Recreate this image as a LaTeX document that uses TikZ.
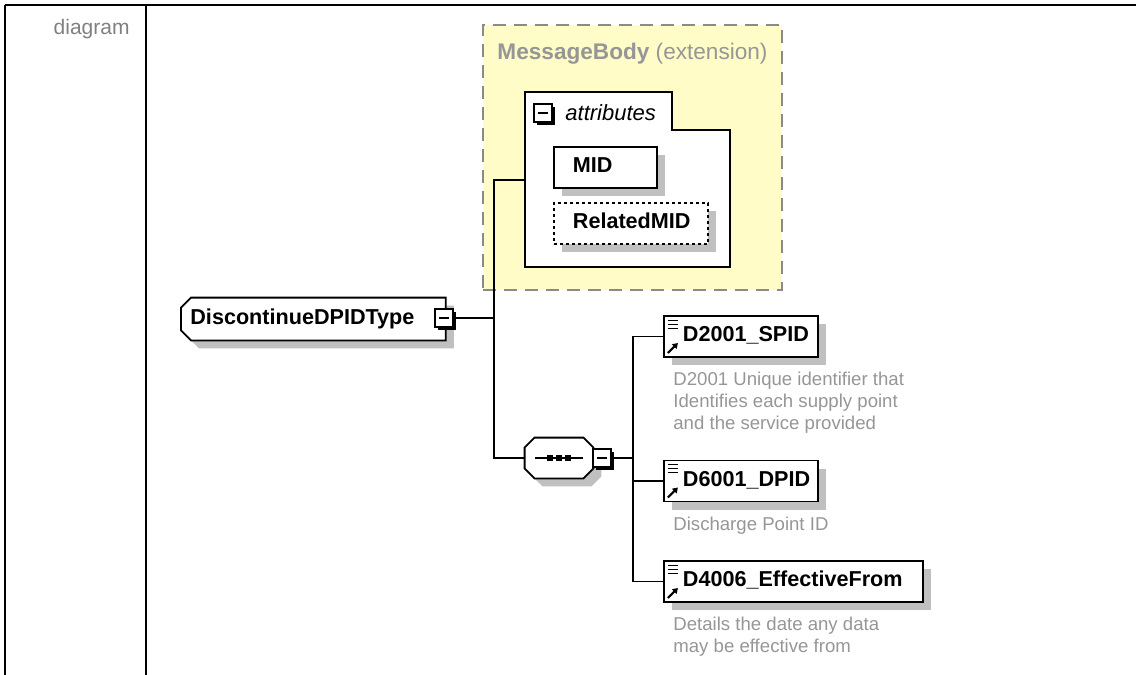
\documentclass[tikz,border=0pt]{standalone}
\usepackage{fontspec}
\setmainfont{Liberation Sans}
\usepackage{tikz}
\usetikzlibrary{positioning,shadows,arrows.meta,backgrounds}

\definecolor{groupfill}{RGB}{255,252,200}
\definecolor{groupedge}{RGB}{138,138,138}
\definecolor{notegray}{RGB}{150,150,150}
\definecolor{celltext}{RGB}{128,128,128}
\definecolor{shadegray}{RGB}{192,192,192}

\tikzset{
	boxshade/.style={drop shadow={shadow xshift=4pt,shadow yshift=-4pt,fill=shadegray,opacity=1}},
	wire/.style={line width=0.7pt},
	frameline/.style={line width=1pt},
	outline/.style={draw,fill=white,line width=0.9pt,boxshade},
	minusbox/.style={draw,fill=white,line width=0.6pt,minimum size=9pt,inner sep=0pt,
		drop shadow={shadow xshift=1.5pt,shadow yshift=-1.5pt,fill=black,opacity=1},
		path picture={\draw[line width=0.6pt] ([xshift=2pt]path picture bounding box.west) -- ([xshift=-2pt]path picture bounding box.east);}},
	namebox/.style={draw,fill=white,line width=0.9pt,boxshade,anchor=west,inner xsep=0pt,inner ysep=0pt,
		text height=8pt,text depth=2.6pt,minimum height=20.5pt,align=left,
		font=\fontsize{10.8}{13}\selectfont\bfseries,execute at begin node={\hspace*{9.5pt}}},
	elembox/.style={namebox,path picture={
		\foreach \yy in {-2pt,-4pt,-6pt}
			\draw[line width=0.5pt] ([xshift=2pt,yshift=\yy]path picture bounding box.north west) -- ++(5pt,0pt);
		\draw[line width=1pt,-{Triangle[length=2.6pt,width=3.2pt]}] ([xshift=2pt,yshift=2pt]path picture bounding box.south west) -- ++(5pt,5pt);}},
	typelabel/.style={anchor=west,inner xsep=0pt,inner ysep=0pt,text height=8pt,text depth=2.6pt,minimum height=21pt,
		align=left,font=\fontsize{10.8}{13}\selectfont\bfseries,execute at begin node={\hspace*{4.5pt}}},
	seqspot/.style={minimum width=34pt,minimum height=20pt,inner sep=0pt},
	note/.style={anchor=north west,inner sep=0pt,align=left,text=notegray,font=\fontsize{9.3}{11}\selectfont},
}

\begin{document}
\begin{tikzpicture}[x=0.5pt,y=-0.5pt]
	%\draw[help lines,step=50] (0,0) grid (1136,675); %help grid
	\useasboundingbox (0,0) rectangle (1136,675);
	% table row frame
	\draw[frameline] (5,5) -- (1136,5);
	\draw[frameline] (5,5) -- (5,675);
	\draw[frameline] (146,5) -- (146,675);
	\node[anchor=base east,inner sep=0pt,text=celltext,font=\fontsize{10.5}{12}\selectfont] (celllabel) at (130,34) {diagram};
	% extension group with attributes
	\node[draw=groupedge,fill=groupfill,line width=0.75pt,dash pattern=on 6.5pt off 4pt,minimum width=149.5pt,minimum height=132.5pt,inner sep=0pt] (msgbody) at (632.5,157.5) {};
	\node[anchor=base,inner sep=0pt,text=notegray,font=\fontsize{11.3}{13}\selectfont] (msglabel) at (632.5,59) {\textbf{MessageBody} (extension)};
	\draw[fill=white,line width=0.9pt] (525,92) -- (672,92) -- (672,130) -- (730,130) -- (730,267) -- (525,267) -- cycle;
	\coordinate (attrin) at (525,180);
	\node[minusbox] (attrminus) at (543,113) {};
	\node[anchor=base west,inner sep=0pt,font=\fontsize{11}{13}\selectfont\itshape] (attrlabel) at (565,120) {attributes};
	\node[namebox,text width=51.5pt] (mid) at (553,167.5) {MID};
	\node[namebox,dash pattern=on 1.6pt off 1.4pt,text width=77pt] (relmid) at (553,223.5) {RelatedMID};
	% type and sequence
	\node[typelabel,text width=132pt] (dpidtype) at (181,319) {DiscontinueDPIDType};
	\node[seqspot] (seq) at (559,458) {};
	\begin{scope}[on background layer]
		\draw[outline] ([xshift=5pt]dpidtype.north west) -- (dpidtype.north east) -- (dpidtype.south east)
			-- ([xshift=5pt]dpidtype.south west) -- ([yshift=5pt]dpidtype.south west) -- ([yshift=-5pt]dpidtype.north west) -- cycle;
		\draw[outline] ([xshift=5pt]seq.north west) -- ([xshift=-5pt]seq.north east) -- ([yshift=-5pt]seq.north east)
			-- ([yshift=5pt]seq.south east) -- ([xshift=-5pt]seq.south east) -- ([xshift=5pt]seq.south west)
			-- ([yshift=5pt]seq.south west) -- ([yshift=-5pt]seq.north west) -- cycle;
	\end{scope}
	\draw[line width=0.6pt] ([xshift=5pt]seq.west) -- ([xshift=-5pt]seq.east);
	\foreach \dx in {-4.5pt,0pt,4.5pt}
		\fill ([xshift=\dx]seq.center) ++(-1.7pt,-1.7pt) rectangle ++(3.4pt,3.4pt);
	\node[minusbox] (typeminus) at (444,318) {};
	\node[minusbox] (seqminus) at (602,458) {};
	% child elements
	\node[elembox,text width=77pt] (spid) at (663,336.5) {D2001\_SPID};
	\node[note] (spidnote) at (673,372) {D2001 Unique identifier that\\Identifies each supply point\\and the service provided};
	\node[elembox,text width=77pt] (dpid) at (663,481) {D6001\_DPID};
	\node[note] (dpidnote) at (673,517) {Discharge Point ID};
	\node[elembox,text width=129.5pt] (efffrom) at (663,581.5) {D4006\_EffectiveFrom};
	\node[note] (effnote) at (673,617) {Details the date any data\\may be effective from};
	% connectors
	\coordinate (fork1) at (494,318);
	\coordinate (fork2) at (633,458);
	\draw[wire] (typeminus.east) -- (fork1);
	\draw[wire] (attrin) -| (fork1);
	\draw[wire] (seq.west) -| (fork1);
	\draw[wire] (seqminus.east) -- (fork2);
	\draw[wire] (spid.west) -| (fork2);
	\draw[wire] (dpid.west) -| (fork2);
	\draw[wire] (efffrom.west) -| (fork2);
\end{tikzpicture}
\end{document}
